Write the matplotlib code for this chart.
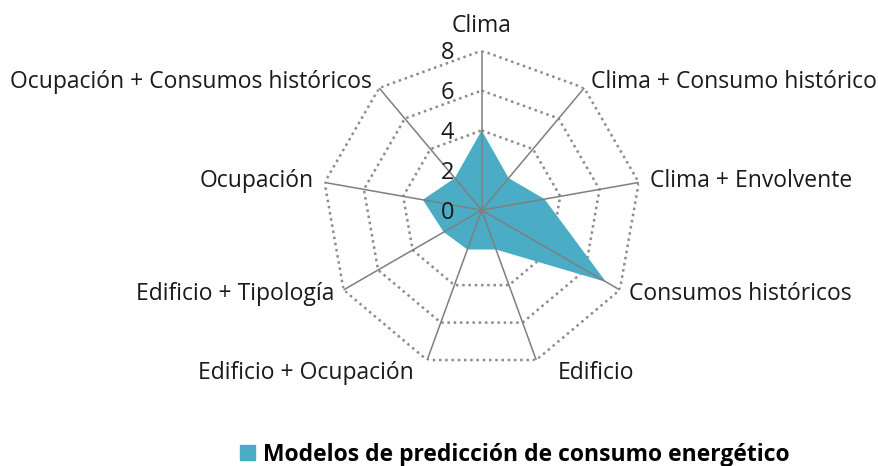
import numpy as np
import matplotlib
matplotlib.use("Agg")
import matplotlib.pyplot as plt
from matplotlib.patches import Patch

plt.rcParams['font.family'] = ['Open Sans', 'DejaVu Sans']

# categories, clockwise from the top
categories = ["Clima", "Clima + Consumo histórico", "Clima + Envolvente",
              "Consumos históricos", "Edificio", "Edificio + Ocupación",
              "Edificio + Tipología", "Ocupación", "Ocupación + Consumos históricos"]
values = [4, 2.1, 3.2, 7.2, 2.1, 2.1, 2.2, 3, 2.1]
r_ticks = [0, 2, 4, 6, 8]
series_name = "Modelos de predicción de consumo energético"

fill_color = "#4BACC6"
grid_color = "#8c8c8c"

n = len(categories)
angles = np.linspace(0, 2 * np.pi, n, endpoint=False)
closed = np.append(angles, angles[0])

fig = plt.figure(figsize=(8.79, 4.66), dpi=100)
ax = fig.add_axes([0.3665, 0.2067, 0.363, 0.6846], projection="polar")
ax.set_theta_offset(np.pi / 2)
ax.set_theta_direction(-1)
ax.set_ylim(0, max(r_ticks))
ax.spines["polar"].set_visible(False)
ax.grid(False)
ax.set_xticks([])
ax.set_yticks([])

# polygon rings, dotted
for r in r_ticks[1:]:
    ax.plot(closed, [r] * len(closed), color=grid_color, lw=1.8,
            linestyle=(0, (1, 1.5)), zorder=1)
# spokes
for a in angles:
    ax.plot([a, a], [0, max(r_ticks)], color="#7f7f7f", lw=1.1, zorder=3)

ax.fill(closed, np.append(values, values[0]), color=fill_color, lw=0, zorder=2)

# radial tick labels left of the top spoke
for r in r_ticks:
    ax.annotate(str(r), xy=(0, r), xytext=(-20, -2), textcoords="offset points",
                ha="right", va="center", fontsize=17, color="#1a1a1a")

# category labels
for a, lab in zip(angles, categories):
    s, c = np.sin(a), np.cos(a)
    if abs(s) < 0.1:
        ha, va, off = "center", "bottom", (0, 9)
    else:
        ha = "left" if s > 0 else "right"
        va = "center"
        off = (s * 8 + (10 * np.sign(s) if c < -0.8 else 0), c * 6 - (4 if c < -0.8 else 0))
        if c < -0.8:
            off = (off[0] + 3, off[1])
    ax.annotate(lab, xy=(a, max(r_ticks)), xytext=off, textcoords="offset points",
                ha=ha, va=va, fontsize=16.5, color="#1a1a1a")

fig.legend(handles=[Patch(color=fill_color, label=series_name)], loc="center",
           bbox_to_anchor=(0.586, 0.024), frameon=False, handlelength=0.65,
           handleheight=0.65, handletextpad=0.35, borderpad=0,
           prop={"weight": "bold", "size": 16.5})

fig.savefig("out.png", dpi=100)
